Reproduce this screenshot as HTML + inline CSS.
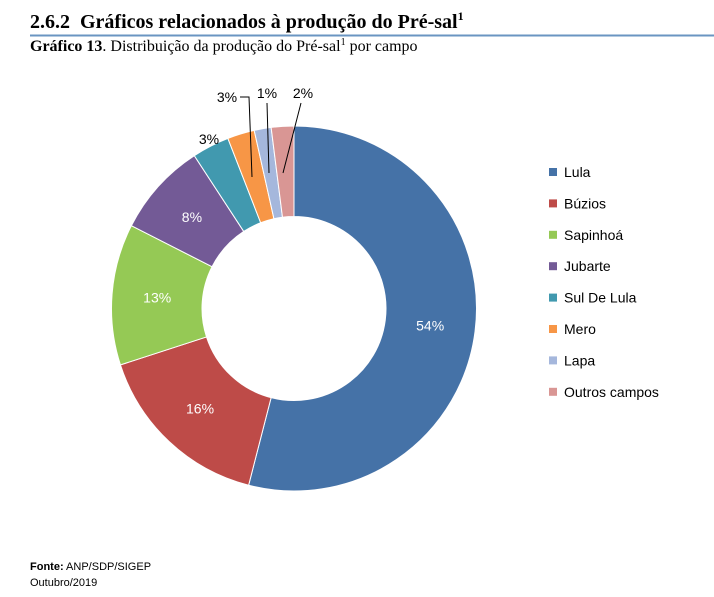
<!DOCTYPE html>
<html><head><meta charset="utf-8"><style>
body{margin:0;background:#fff;width:714px;height:592px;overflow:hidden;font-family:"Liberation Sans",sans-serif}
</style></head><body>
<svg width="714" height="592" xmlns="http://www.w3.org/2000/svg">
<text x="30" y="28" font-family="Liberation Serif" font-weight="bold" font-size="20" fill="#000">2.6.2 &#160;Gráficos relacionados à produção do Pré-sal<tspan font-size="12" dy="-8">1</tspan></text>
<line x1="30" y1="35.5" x2="714" y2="35.5" stroke="#6A95C2" stroke-width="2"/>
<text x="30" y="51" font-family="Liberation Serif" font-size="16" fill="#000"><tspan font-weight="bold">Gráfico 13</tspan>. Distribuição da produção do Pré-sal<tspan font-size="10" dy="-6">1</tspan><tspan dy="6"> por campo</tspan></text>
<g id="slices"></g>
<g id="labels" font-size="14"></g>
<g id="leaders" stroke="#000" stroke-width="1" fill="none">
<polyline points="240,97 249,97 252,177"/>
<polyline points="267,103 269,173"/>
<polyline points="301,103 283,173"/>
</g>
<g id="legend" font-size="14"></g>
<text x="30" y="570" font-size="11" fill="#000"><tspan font-weight="bold">Fonte:</tspan> ANP/SDP/SIGEP</text>
<text x="30" y="586" font-size="11" fill="#000">Outubro/2019</text>
</svg>
<script>
const categories=["Lula","Búzios","Sapinhoá","Jubarte","Sul De Lula","Mero","Lapa","Outros campos"];
const values=[54,16,12.5,8.3,3.3,2.4,1.5,2.0];
const valueLabels=["54%","16%","13%","8%","3%","3%","1%","2%"];
const colors=["#4572A7","#BE4B48","#95C955","#735A96","#4199AF","#F79646","#A5B7DC","#D99694"];
const NS="http://www.w3.org/2000/svg";
const cx=294,cy=308.5,R=182.5,r=92;
const total=values.reduce((a,b)=>a+b,0);
function pt(frac,rad){const a=frac*2*Math.PI;return [cx+rad*Math.sin(a),cy-rad*Math.cos(a)];}
const sg=document.getElementById('slices'),lg=document.getElementById('labels'),leg=document.getElementById('legend');
let cum=0;
const outside={4:[209,139],5:[227,97],6:[267,93],7:[303,93]};
values.forEach((v,i)=>{
 const f0=cum/total,f1=(cum+v)/total;cum+=v;
 const large=(f1-f0)>0.5?1:0;
 const [x0,y0]=pt(f0,R),[x1,y1]=pt(f1,R),[x2,y2]=pt(f1,r),[x3,y3]=pt(f0,r);
 const p=document.createElementNS(NS,'path');
 p.setAttribute('d',`M${x0},${y0}A${R},${R} 0 ${large} 1 ${x1},${y1}L${x2},${y2}A${r},${r} 0 ${large} 0 ${x3},${y3}Z`);
 p.setAttribute('fill',colors[i]);p.setAttribute('stroke','#fff');p.setAttribute('stroke-width','1');
 
 
 sg.appendChild(p);
 const t=document.createElementNS(NS,'text');
 let lx,ly,fill;
 if(outside[i]){[lx,ly]=outside[i];fill='#000';}
 else{[lx,ly]=pt((f0+f1)/2,(R+r)/2);fill='#fff';}
 t.setAttribute('x',lx);t.setAttribute('y',ly+5);t.setAttribute('text-anchor','middle');t.setAttribute('fill',fill);
 t.textContent=valueLabels[i];
 
 
 lg.appendChild(t);
 const ly2=172+i*31.4;
 const g=document.createElementNS(NS,'g');
 
 
 const s=document.createElementNS(NS,'rect');s.setAttribute('x',549);s.setAttribute('y',ly2-4);s.setAttribute('width',8);s.setAttribute('height',8);s.setAttribute('fill',colors[i]);
 const tt=document.createElementNS(NS,'text');tt.setAttribute('x',564);tt.setAttribute('y',ly2+5);tt.textContent=categories[i];
 g.appendChild(s);g.appendChild(tt);leg.appendChild(g);
});
</script>
</body></html>
